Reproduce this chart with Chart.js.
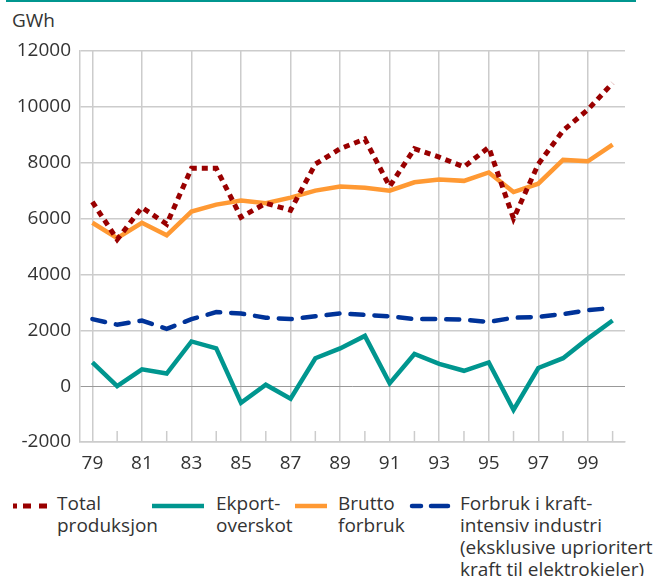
<!DOCTYPE html>
<html>
<head>
<meta charset="utf-8">
<script src="https://cdn.jsdelivr.net/npm/chart.js@4"></script>
<style>
  body { margin: 0; background: #fff; font-family: "Open Sans", sans-serif; color: #333; }
  #wrap { position: relative; width: 656px; height: 576px; overflow: hidden; }
  #rule { position: absolute; left: 6px; top: 0; width: 630px; height: 2px; background: #00968f; }
  #unit { position: absolute; left: 12px; top: 8px; font-size: 19px; line-height: 24px; }
  canvas { position: absolute; left: 0; top: 0; }
  .lg { position: absolute; top: 492px; font-size: 19px; line-height: 22px; white-space: nowrap; }
  .sw { position: absolute; top: 500px; }
</style>
</head>
<body>
<div id="wrap">
  <div id="rule"></div>
  <div id="unit">GWh</div>
  <canvas id="c" width="656" height="480"></canvas>

  <svg class="sw" style="left:12px" width="38" height="12"><line x1="1" y1="6" x2="36" y2="6" stroke="#990000" stroke-width="5" stroke-dasharray="4 6 8 8 8"/></svg>
  <div class="lg" style="left:57px">Total<br>produksjon</div>

  <svg class="sw" style="left:152px" width="54" height="12"><line x1="0" y1="6" x2="52" y2="6" stroke="#00968f" stroke-width="4.5"/></svg>
  <div class="lg" style="left:216px">Ekport-<br>overskot</div>

  <svg class="sw" style="left:295px" width="34" height="12"><line x1="0" y1="6" x2="32" y2="6" stroke="#ff9933" stroke-width="4.5"/></svg>
  <div class="lg" style="left:338px">Brutto<br>forbruk</div>

  <svg class="sw" style="left:408px" width="44" height="12"><line x1="4" y1="6" x2="40" y2="6" stroke="#003399" stroke-width="4.5" stroke-linecap="round" stroke-dasharray="9 10 20"/></svg>
  <div class="lg" style="left:460px">Forbruk i kraft-<br>intensiv industri<br>(eksklusive uprioritert<br>kraft til elektrokjeler)</div>
</div>

<script>
const years = ['79','80','81','82','83','84','85','86','87','88','89',
               '90','91','92','93','94','95','96','97','98','99','00'];
const totalProduksjon = [6600, 5250, 6400, 5800, 7800, 7800, 6050, 6550, 6300, 7950, 8500,
                         8850, 7150, 8500, 8200, 7850, 8550, 6000, 7950, 9150, 9900, 10850];
const eksportOverskot = [850, 0, 600, 450, 1600, 1350, -600, 50, -450, 1000, 1350,
                         1800, 100, 1150, 800, 550, 850, -850, 650, 1000, 1700, 2350];
const bruttoForbruk = [5850, 5300, 5850, 5400, 6250, 6500, 6650, 6550, 6750, 7000, 7150,
                       7100, 7000, 7300, 7400, 7350, 7650, 6950, 7250, 8100, 8050, 8650];
const kraftintensiv = [2400, 2200, 2350, 2050, 2400, 2650, 2600, 2450, 2400, 2500, 2600,
                       2550, 2500, 2400, 2400, 2380, 2300, 2450, 2480, 2580, 2720, 2800];

const yMin = -2000, yMax = 12000, yStep = 2000;
const gridGrey = '#cccccc';

Chart.defaults.font.family = "'Open Sans', sans-serif";
Chart.defaults.font.size = 19;
Chart.defaults.color = '#333';

// short ticks inside the plot for the unlabelled (even) years
const shortTicks = {
  id: 'shortTicks',
  beforeDatasetsDraw(chart) {
    const x = chart.scales.x, area = chart.chartArea, ctx = chart.ctx;
    ctx.save();
    ctx.strokeStyle = gridGrey;
    ctx.lineWidth = 1.5;
    for (let i = 1; i < years.length; i += 2) {
      const px = x.getPixelForValue(i);
      ctx.beginPath();
      ctx.moveTo(px, area.bottom - 11);
      ctx.lineTo(px, area.bottom);
      ctx.stroke();
    }
    ctx.restore();
  }
};

new Chart(document.getElementById('c'), {
  type: 'line',
  data: {
    labels: years,
    datasets: [
      { label: 'Total produksjon', data: totalProduksjon, borderColor: '#990000',
        borderWidth: 5, borderDash: [6, 5], order: 0 },
      { label: 'Ekport-overskot', data: eksportOverskot, borderColor: '#00968f',
        borderWidth: 4.5, order: 2 },
      { label: 'Brutto forbruk', data: bruttoForbruk, borderColor: '#ff9933',
        borderWidth: 4.5, order: 1 },
      { label: 'Forbruk i kraftintensiv industri', data: kraftintensiv, borderColor: '#003399',
        borderWidth: 4.5, borderDash: [13, 11], borderCapStyle: 'round', order: 3 }
    ]
  },
  options: {
    responsive: false,
    animation: false,
    events: [],
    elements: { point: { radius: 0 }, line: { tension: 0, fill: false } },
    layout: { padding: { top: 51, right: 31, left: 0, bottom: 0 } },
    plugins: { legend: { display: false }, tooltip: { enabled: false } },
    scales: {
      x: {
        offset: true,
        afterFit(s) { s.height = 38; },
        grid: {
          drawTicks: false,
          lineWidth: 1.5,
          color: c => (c.index % 2 === 0 ? gridGrey : 'rgba(0,0,0,0)')
        },
        border: { color: gridGrey, width: 1.5 },
        ticks: {
          autoSkip: false,
          maxRotation: 0,
          padding: 10,
          callback: (v, i) => (i % 2 === 0 ? years[i] : '')
        }
      },
      y: {
        min: yMin, max: yMax,
        afterFit(s) { s.width = 80; },
        grid: {
          drawTicks: false,
          lineWidth: c => (c.tick && c.tick.value === 0 ? 1 : 1.5),
          color: c => (c.tick && c.tick.value === 0 ? '#999999' : gridGrey)
        },
        border: { color: gridGrey, width: 1.5 },
        ticks: { stepSize: yStep, padding: 9, callback: v => String(v) }
      }
    }
  },
  plugins: [shortTicks]
});
</script>
</body>
</html>
